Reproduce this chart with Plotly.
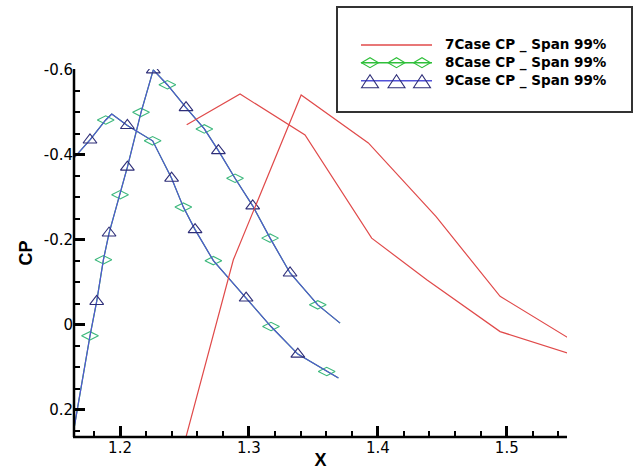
import plotly.graph_objects as go

# ---------------- data ----------------
# 7Case CP _ Span 99%  (two branches, separated by None)
x7 = [1.2480, 1.2879, 1.3405, 1.3926, 1.4450, 1.4948, 1.5500, None,
      1.2517, 1.2931, 1.3435, 1.3952, 1.4379, 1.4948, 1.5500]
cp7 = [0.300, -0.153, -0.541, -0.428, -0.255, -0.067, 0.035, None,
       -0.471, -0.543, -0.447, -0.204, -0.106, 0.016, 0.069]

# 8Case CP _ Span 99%
x8 = [1.1600, 1.1767, 1.1889, 1.1936, 1.2057, 1.2253, 1.2400, 1.2491, 1.2582,
      1.2724, 1.2978, 1.3171, 1.3379, 1.3603, 1.3694, None,
      1.1600, 1.1767, 1.1819, 1.1871, 1.1915, 1.2000, 1.2057, 1.2163, 1.2258,
      1.2367, 1.2512, 1.2654, 1.2763, 1.2892, 1.3029, 1.3164, 1.3319, 1.3534, 1.3707]
cp8 = [-0.378, -0.435, -0.482, -0.496, -0.469, -0.433, -0.345, -0.277, -0.224,
       -0.151, -0.063, 0.004, 0.069, 0.110, 0.125, None,
       0.320, 0.026, -0.055, -0.153, -0.216, -0.306, -0.371, -0.500, -0.600,
       -0.565, -0.511, -0.461, -0.410, -0.345, -0.280, -0.204, -0.122, -0.047, -0.004]

# 9Case CP _ Span 99%
x9 = [1.1600, 1.1767, 1.1889, 1.1936, 1.2057, 1.2253, 1.2400, 1.2491, 1.2582,
      1.2724, 1.2978, 1.3171, 1.3379, 1.3603, 1.3694, None,
      1.1600, 1.1767, 1.1819, 1.1871, 1.1915, 1.2000, 1.2057, 1.2163, 1.2258,
      1.2367, 1.2512, 1.2654, 1.2763, 1.2892, 1.3029, 1.3164, 1.3319, 1.3534, 1.3707]
cp9 = [-0.378, -0.435, -0.482, -0.496, -0.469, -0.433, -0.345, -0.277, -0.224,
       -0.151, -0.063, 0.004, 0.069, 0.110, 0.125, None,
       0.320, 0.026, -0.055, -0.153, -0.216, -0.306, -0.371, -0.500, -0.600,
       -0.565, -0.511, -0.461, -0.410, -0.345, -0.280, -0.204, -0.122, -0.047, -0.004]

# points that carry a symbol in each series
sym8 = [2, 5, 7, 9, 11, 13, 17, 19, 21, 23, 25, 27, 29, 31, 33]
sym9 = [1, 4, 6, 8, 10, 12, 18, 20, 22, 24, 26, 28, 30, 32]

names = ["7Case CP _ Span 99%", "8Case CP _ Span 99%", "9Case CP _ Span 99%"]

x_tickvals = [1.2, 1.3, 1.4, 1.5]
x_ticktext = ["1.2", "1.3", "1.4", "1.5"]
y_tickvals = [-0.6, -0.4, -0.2, 0, 0.2]
y_ticktext = ["-0.6", "-0.4", "-0.2", "0", "0.2"]

# ---------------- styles ----------------
RED = "#e04a4a"
GREEN_LINE = "#2fbf3a"
GREEN_SYM = "#3cb87c"
BLUE_LINE = "#5252d8"
BLUE_SYM = "#2e2e78"
TICK_FONT = "DejaVu Sans, Liberation Sans, sans-serif"
BOLD_FONT = "Liberation Sans, Arial, sans-serif"
LEG_FONT = "DejaVu Sans, Liberation Sans, sans-serif"

X_RANGE = [1.1643, 1.5467]
Y_RANGE = [0.264, -0.602]

# figure geometry (pixels)
W, H = 637, 470
ML, MR, MT, MB = 74, 70, 69, 33
PW, PH = W - ML - MR, H - MT - MB


def px(xp):
    return (xp - ML) / PW


def py(yp):
    return (H - MB - yp) / PH


fig = go.Figure()

# 7Case (on the overlay y axis that carries the minor y ticks; identical range)
fig.add_trace(go.Scatter(x=x7, y=cp7, mode="lines", name=names[0], yaxis="y2",
                         line=dict(color=RED, width=1.2),
                         showlegend=False, connectgaps=False))
# 8Case
fig.add_trace(go.Scatter(x=x8, y=cp8, mode="lines", name=names[1],
                         line=dict(color=GREEN_LINE, width=1.2),
                         showlegend=False, connectgaps=False))
fig.add_trace(go.Scatter(x=[x8[i] for i in sym8], y=[cp8[i] for i in sym8], mode="markers",
                         name=names[1],
                         marker=dict(symbol="diamond-wide-open", size=12, color=GREEN_SYM,
                                     line=dict(width=1.1)),
                         showlegend=False))
# 9Case
fig.add_trace(go.Scatter(x=x9, y=cp9, mode="lines", name=names[2],
                         line=dict(color=BLUE_LINE, width=1.2),
                         showlegend=False, connectgaps=False))
fig.add_trace(go.Scatter(x=[x9[i] for i in sym9], y=[cp9[i] for i in sym9], mode="markers",
                         name=names[2],
                         marker=dict(symbol="triangle-up-open", size=12, color=BLUE_SYM,
                                     line=dict(width=1.1)),
                         showlegend=False))

fig.update_layout(
    xaxis=dict(
        range=X_RANGE, showgrid=False, zeroline=False, showline=False,
        tickmode="array", tickvals=x_tickvals, ticktext=x_ticktext,
        ticks="inside", ticklen=11, tickwidth=3, tickcolor="#000000",
        minor=dict(ticks="inside", ticklen=6, tickwidth=1.5, tickcolor="#000000",
                   tickmode="linear", tick0=1.2, dtick=0.02),
        tickfont=dict(family=TICK_FONT, size=15, color="black"),
        title=dict(text="<b>X</b>", font=dict(family=BOLD_FONT, size=18, color="black"),
                   standoff=0),
    ),
    yaxis=dict(
        range=Y_RANGE, showgrid=False, zeroline=False, showline=False,
        tickmode="array", tickvals=y_tickvals, ticktext=y_ticktext,
        ticks="inside", ticklen=11, tickwidth=3, tickcolor="#000000",
        tickfont=dict(family=TICK_FONT, size=15, color="black"),
        title=dict(text="<b>CP</b>", font=dict(family=BOLD_FONT, size=18, color="black"),
                   standoff=6),
    ),
    yaxis2=dict(
        range=Y_RANGE, overlaying="y", side="left", anchor="x",
        showgrid=False, zeroline=False, showline=False, showticklabels=False,
        tickmode="linear", tick0=0, dtick=0.05,
        ticks="inside", ticklen=6, tickwidth=1.5, tickcolor="#000000",
    ),
)

shapes = []
# axis lines (left and bottom)
shapes.append(dict(type="line", xref="paper", yref="paper", x0=-0.002, x1=1, y0=0, y1=0,
                   line=dict(color="black", width=2.5), layer="above"))
shapes.append(dict(type="line", xref="paper", yref="paper", x0=0, x1=0, y0=0, y1=1,
                   line=dict(color="black", width=2.5), layer="above"))
# legend frame
shapes.append(dict(type="rect", xref="paper", yref="paper",
                   x0=px(337), x1=px(632), y0=py(112), y1=py(7),
                   line=dict(color="#333333", width=2), fillcolor="rgba(0,0,0,0)",
                   layer="above"))

rows = [45, 62.7, 80.7]
line_x0, line_x1 = 361, 432
sym_x = [370, 396.5, 422]
leg_line_colors = [RED, GREEN_LINE, BLUE_LINE]
for r, c in zip(rows, leg_line_colors):
    shapes.append(dict(type="line", xref="paper", yref="paper",
                       x0=px(line_x0), x1=px(line_x1), y0=py(r), y1=py(r),
                       line=dict(color=c, width=1.5), layer="above"))


def diamond_path(cx, cy, w, h):
    pts = [(cx - w / 2, cy), (cx, cy - h / 2), (cx + w / 2, cy), (cx, cy + h / 2)]
    return "M" + " L".join(f"{px(a):.5f},{py(b):.5f}" for a, b in pts) + " Z"


def triangle_path(cx, cy, w, h):
    pts = [(cx - w / 2, cy + h / 2), (cx, cy - h / 2), (cx + w / 2, cy + h / 2)]
    return "M" + " L".join(f"{px(a):.5f},{py(b):.5f}" for a, b in pts) + " Z"


for sx in sym_x:
    shapes.append(dict(type="path", xref="paper", yref="paper",
                       path=diamond_path(sx, rows[1], 17, 10),
                       line=dict(color=GREEN_LINE, width=1.1), fillcolor="rgba(0,0,0,0)",
                       layer="above"))
    shapes.append(dict(type="path", xref="paper", yref="paper",
                       path=triangle_path(sx, rows[2] + 0.5, 17, 13),
                       line=dict(color=BLUE_SYM, width=1.1), fillcolor="rgba(0,0,0,0)",
                       layer="above"))

annotations = []
for r, n in zip(rows, names):
    annotations.append(dict(text=f"<b>{n}</b>", xref="paper", yref="paper",
                            x=px(443), y=py(r), xanchor="left", yanchor="middle",
                            showarrow=False,
                            font=dict(family=LEG_FONT, size=13.5, color="black")))

fig.update_layout(
    width=W, height=H,
    margin=dict(l=ML, r=MR, t=MT, b=MB, autoexpand=False),
    plot_bgcolor="white", paper_bgcolor="white",
    font=dict(family=BOLD_FONT, size=15, color="black"),
    showlegend=False,
    shapes=shapes,
    annotations=annotations,
)

fig.write_html("out.html")
